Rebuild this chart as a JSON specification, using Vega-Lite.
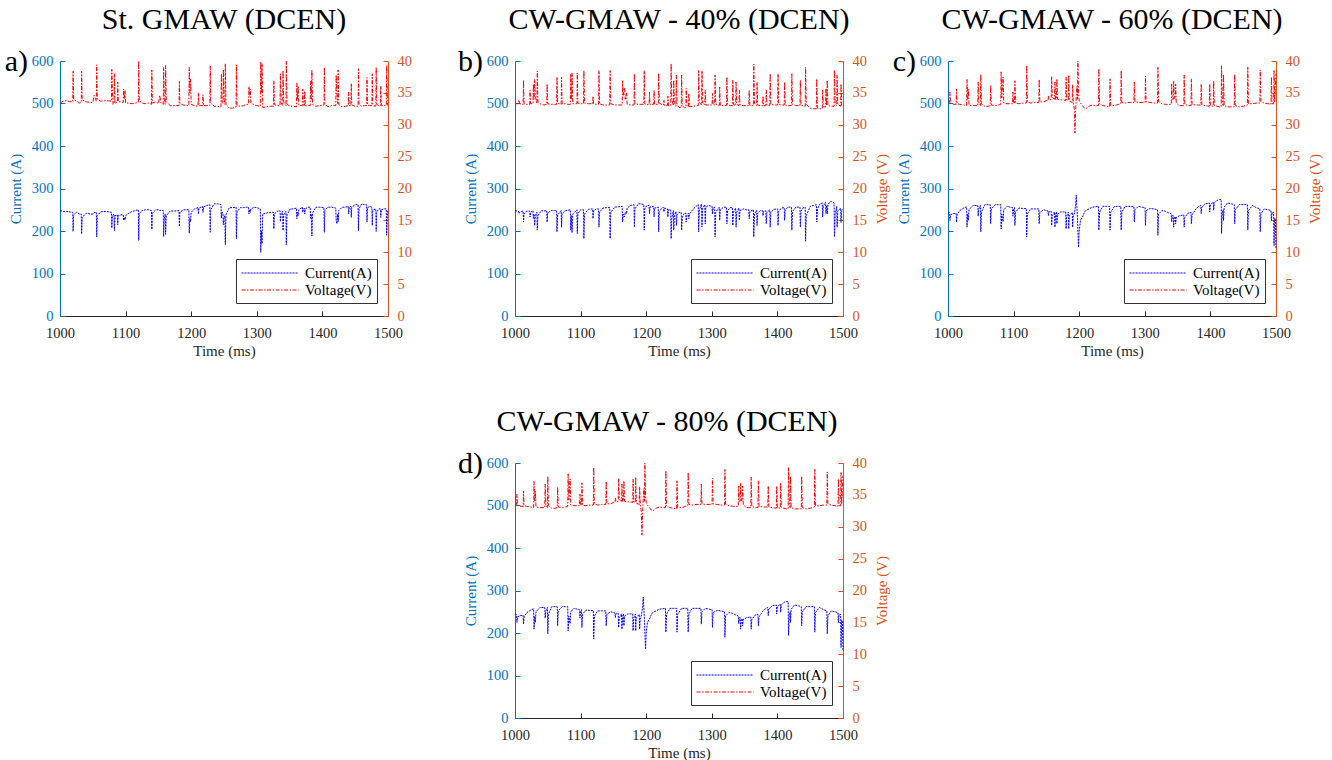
{
"$schema": "https://vega.github.io/schema/vega-lite/v6.json",
"background": "white",
"padding": {"left": 4, "top": 5, "right": 5, "bottom": 3},
"datasets": {
"a": [
{"t":1000,"I":248,"V":33.4},{"t":1005,"I":246,"V":33.7},{"t":1010,"I":246,"V":33.8},{"t":1015,"I":245,"V":33.6},{"t":1019.4,"I":244,"V":33.6},{"t":1020,"I":199,"V":38.4},{"t":1020.8,"I":238,"V":34.0},{"t":1025,"I":244,"V":33.7},{"t":1030,"I":240,"V":33.4},{"t":1032.4,"I":240,"V":33.5},{"t":1033,"I":193,"V":38.4},{"t":1033.8,"I":232,"V":33.9},{"t":1040,"I":242,"V":33.6},{"t":1046,"I":240,"V":33.5},{"t":1050,"I":240,"V":33.5},{"t":1052,"I":243,"V":34.6},{"t":1055.4,"I":244,"V":33.7},{"t":1056,"I":186,"V":39.4},{"t":1056.8,"I":236,"V":34.0},{"t":1062,"I":245,"V":33.7},{"t":1070,"I":246,"V":33.8},{"t":1078.4,"I":244,"V":33.7},{"t":1079,"I":207,"V":38.7},{"t":1080,"I":236,"V":34.5},{"t":1081,"I":238,"V":33.2},{"t":1082.4,"I":240,"V":33.5},{"t":1083,"I":201,"V":38.0},{"t":1083.8,"I":236,"V":33.3},{"t":1087.4,"I":238,"V":33.6},{"t":1088,"I":215,"V":36.7},{"t":1088.8,"I":236,"V":33.6},{"t":1093,"I":238,"V":33.6},{"t":1096.4,"I":238,"V":33.5},{"t":1097,"I":225,"V":35.6},{"t":1098,"I":232,"V":34.0},{"t":1099,"I":226,"V":35.4},{"t":1100,"I":236,"V":33.4},{"t":1105,"I":242,"V":33.4},{"t":1110,"I":246,"V":33.3},{"t":1119.4,"I":250,"V":33.5},{"t":1120,"I":178,"V":40.0},{"t":1120.8,"I":240,"V":33.8},{"t":1125,"I":248,"V":33.4},{"t":1130,"I":250,"V":33.3},{"t":1135,"I":250,"V":33.4},{"t":1139.4,"I":248,"V":33.2},{"t":1140,"I":204,"V":38.6},{"t":1140.8,"I":242,"V":33.4},{"t":1146,"I":250,"V":33.6},{"t":1150,"I":250,"V":33.3},{"t":1152,"I":248,"V":34.6},{"t":1154,"I":249,"V":33.4},{"t":1157.4,"I":248,"V":33.2},{"t":1158,"I":187,"V":39.0},{"t":1159,"I":230,"V":34.0},{"t":1160.4,"I":240,"V":33.2},{"t":1161,"I":192,"V":39.3},{"t":1162,"I":236,"V":33.6},{"t":1168,"I":247,"V":33.0},{"t":1175,"I":247,"V":33.0},{"t":1181.4,"I":248,"V":33.0},{"t":1182,"I":211,"V":36.8},{"t":1182.8,"I":244,"V":33.3},{"t":1188,"I":250,"V":33.1},{"t":1193,"I":250,"V":33.0},{"t":1196.4,"I":250,"V":33.0},{"t":1197,"I":195,"V":39.0},{"t":1198,"I":230,"V":35.0},{"t":1199,"I":222,"V":37.2},{"t":1200,"I":244,"V":33.2},{"t":1205,"I":252,"V":33.0},{"t":1210.4,"I":255,"V":32.9},{"t":1211,"I":240,"V":35.0},{"t":1211.8,"I":254,"V":33.0},{"t":1217.4,"I":258,"V":33.0},{"t":1218,"I":244,"V":34.7},{"t":1218.8,"I":257,"V":33.0},{"t":1224,"I":260,"V":33.0},{"t":1228.4,"I":262,"V":33.0},{"t":1229,"I":197,"V":39.2},{"t":1229.8,"I":250,"V":33.4},{"t":1235,"I":264,"V":32.9},{"t":1240,"I":264,"V":32.9},{"t":1245.4,"I":262,"V":32.8},{"t":1246,"I":230,"V":38.0},{"t":1247,"I":245,"V":33.5},{"t":1248.4,"I":240,"V":33.3},{"t":1249,"I":215,"V":38.7},{"t":1250,"I":232,"V":34.0},{"t":1251.4,"I":236,"V":33.2},{"t":1252,"I":168,"V":39.6},{"t":1253,"I":238,"V":33.2},{"t":1258,"I":255,"V":32.6},{"t":1263,"I":255,"V":32.6},{"t":1268.4,"I":256,"V":32.8},{"t":1269,"I":182,"V":39.4},{"t":1269.8,"I":245,"V":33.0},{"t":1275,"I":255,"V":32.9},{"t":1280,"I":255,"V":33.0},{"t":1284,"I":256,"V":33.2},{"t":1287.4,"I":256,"V":33.2},{"t":1288,"I":240,"V":36.0},{"t":1289,"I":250,"V":34.6},{"t":1290,"I":244,"V":35.6},{"t":1291,"I":252,"V":33.4},{"t":1296,"I":256,"V":33.1},{"t":1300,"I":255,"V":33.0},{"t":1305.4,"I":252,"V":32.9},{"t":1306,"I":150,"V":39.9},{"t":1307,"I":200,"V":35.0},{"t":1308,"I":170,"V":39.6},{"t":1309,"I":240,"V":32.7},{"t":1314,"I":242,"V":32.8},{"t":1320,"I":244,"V":32.9},{"t":1325.4,"I":244,"V":32.9},{"t":1326,"I":205,"V":36.9},{"t":1326.8,"I":240,"V":33.2},{"t":1331,"I":246,"V":33.0},{"t":1335.4,"I":248,"V":33.0},{"t":1336,"I":222,"V":38.0},{"t":1337,"I":240,"V":33.5},{"t":1339.4,"I":246,"V":33.0},{"t":1340,"I":201,"V":38.5},{"t":1341,"I":238,"V":33.6},{"t":1344.4,"I":246,"V":33.0},{"t":1345,"I":168,"V":40.0},{"t":1346,"I":238,"V":33.2},{"t":1351,"I":252,"V":32.9},{"t":1356,"I":252,"V":32.9},{"t":1360.4,"I":254,"V":32.8},{"t":1361,"I":229,"V":36.5},{"t":1362,"I":244,"V":34.0},{"t":1363,"I":236,"V":36.1},{"t":1364,"I":250,"V":33.0},{"t":1369.4,"I":256,"V":33.0},{"t":1370,"I":244,"V":35.6},{"t":1371,"I":250,"V":33.4},{"t":1372.4,"I":254,"V":33.0},{"t":1373,"I":240,"V":35.3},{"t":1374,"I":252,"V":33.0},{"t":1378,"I":256,"V":33.0},{"t":1381.4,"I":256,"V":33.0},{"t":1382,"I":230,"V":36.8},{"t":1383,"I":240,"V":34.0},{"t":1384,"I":188,"V":38.6},{"t":1385,"I":242,"V":33.2},{"t":1390,"I":256,"V":32.9},{"t":1396,"I":256,"V":33.0},{"t":1402.4,"I":255,"V":33.1},{"t":1403,"I":197,"V":39.0},{"t":1403.8,"I":248,"V":33.3},{"t":1408,"I":256,"V":32.8},{"t":1414,"I":256,"V":33.0},{"t":1420.4,"I":254,"V":33.0},{"t":1421,"I":225,"V":37.8},{"t":1422,"I":217,"V":35.0},{"t":1423.4,"I":240,"V":33.3},{"t":1424,"I":222,"V":38.6},{"t":1425,"I":248,"V":33.2},{"t":1430,"I":256,"V":32.8},{"t":1435,"I":256,"V":32.9},{"t":1439.4,"I":258,"V":33.0},{"t":1440,"I":240,"V":35.1},{"t":1440.8,"I":256,"V":33.0},{"t":1443.4,"I":258,"V":33.0},{"t":1444,"I":232,"V":36.5},{"t":1444.8,"I":256,"V":33.1},{"t":1450,"I":262,"V":32.9},{"t":1454.4,"I":262,"V":32.9},{"t":1455,"I":201,"V":38.8},{"t":1455.8,"I":252,"V":33.2},{"t":1460,"I":264,"V":32.9},{"t":1464,"I":262,"V":33.0},{"t":1467.4,"I":262,"V":33.0},{"t":1468,"I":221,"V":37.4},{"t":1468.8,"I":255,"V":33.1},{"t":1472,"I":258,"V":33.0},{"t":1475.4,"I":256,"V":33.0},{"t":1476,"I":213,"V":38.0},{"t":1476.8,"I":248,"V":33.2},{"t":1478,"I":250,"V":33.0},{"t":1481.4,"I":252,"V":32.9},{"t":1482,"I":199,"V":39.0},{"t":1482.8,"I":244,"V":33.2},{"t":1486,"I":252,"V":33.0},{"t":1488.4,"I":252,"V":33.0},{"t":1489,"I":232,"V":36.1},{"t":1489.8,"I":250,"V":33.0},{"t":1494,"I":252,"V":33.0},{"t":1497.4,"I":252,"V":33.0},{"t":1498,"I":190,"V":39.3},{"t":1499,"I":240,"V":33.4},{"t":1500,"I":250,"V":33.0}
],
"b": [
{"t":1000,"I":248,"V":33.3},{"t":1005.4,"I":246,"V":33.3},{"t":1006,"I":241,"V":33.9},{"t":1006.8,"I":244,"V":33.3},{"t":1012.4,"I":247,"V":33.2},{"t":1013,"I":221,"V":37.0},{"t":1013.8,"I":240,"V":33.3},{"t":1018,"I":247,"V":33.2},{"t":1022.4,"I":247,"V":33.2},{"t":1023,"I":233,"V":35.4},{"t":1023.8,"I":244,"V":33.3},{"t":1027.4,"I":248,"V":33.3},{"t":1028,"I":230,"V":36.4},{"t":1029,"I":240,"V":34.0},{"t":1030,"I":213,"V":37.1},{"t":1031,"I":236,"V":34.5},{"t":1033.4,"I":244,"V":33.3},{"t":1034,"I":202,"V":38.4},{"t":1035,"I":236,"V":33.5},{"t":1040,"I":248,"V":33.2},{"t":1044,"I":247,"V":33.1},{"t":1048.4,"I":248,"V":33.2},{"t":1049,"I":221,"V":36.4},{"t":1049.8,"I":242,"V":33.3},{"t":1055,"I":248,"V":33.2},{"t":1060,"I":248,"V":33.2},{"t":1063.4,"I":248,"V":33.2},{"t":1064,"I":198,"V":37.5},{"t":1065,"I":238,"V":33.4},{"t":1070.4,"I":248,"V":33.2},{"t":1071,"I":209,"V":37.5},{"t":1071.8,"I":240,"V":33.3},{"t":1077,"I":248,"V":33.3},{"t":1081,"I":249,"V":33.2},{"t":1084.4,"I":250,"V":33.2},{"t":1085,"I":202,"V":38.0},{"t":1086,"I":236,"V":34.0},{"t":1087,"I":196,"V":38.1},{"t":1088,"I":240,"V":33.3},{"t":1094.4,"I":250,"V":33.3},{"t":1095,"I":194,"V":38.1},{"t":1095.8,"I":240,"V":33.4},{"t":1100,"I":250,"V":33.3},{"t":1104.4,"I":250,"V":33.3},{"t":1105,"I":182,"V":38.5},{"t":1106,"I":240,"V":33.4},{"t":1112,"I":251,"V":33.3},{"t":1118.4,"I":252,"V":33.3},{"t":1119,"I":229,"V":34.5},{"t":1119.8,"I":248,"V":33.3},{"t":1124,"I":252,"V":33.2},{"t":1127.4,"I":252,"V":33.2},{"t":1128,"I":209,"V":38.5},{"t":1128.8,"I":244,"V":33.3},{"t":1134,"I":254,"V":33.1},{"t":1140,"I":255,"V":33.1},{"t":1144.4,"I":255,"V":33.1},{"t":1145,"I":182,"V":38.5},{"t":1146,"I":244,"V":33.3},{"t":1152,"I":256,"V":33.1},{"t":1158,"I":257,"V":33.1},{"t":1163.4,"I":258,"V":33.1},{"t":1164,"I":221,"V":36.9},{"t":1165,"I":240,"V":34.6},{"t":1167,"I":233,"V":35.8},{"t":1168,"I":244,"V":34.0},{"t":1170,"I":240,"V":35.0},{"t":1171,"I":254,"V":33.2},{"t":1176,"I":260,"V":33.1},{"t":1181.4,"I":262,"V":33.1},{"t":1182,"I":209,"V":38.0},{"t":1182.8,"I":252,"V":33.3},{"t":1188,"I":264,"V":33.2},{"t":1192,"I":264,"V":33.2},{"t":1196.4,"I":262,"V":33.2},{"t":1197,"I":202,"V":38.5},{"t":1197.8,"I":252,"V":33.3},{"t":1201,"I":260,"V":33.2},{"t":1204.4,"I":260,"V":33.2},{"t":1205,"I":241,"V":35.1},{"t":1205.8,"I":256,"V":33.2},{"t":1211.4,"I":258,"V":33.2},{"t":1212,"I":233,"V":35.4},{"t":1212.8,"I":254,"V":33.2},{"t":1218.4,"I":256,"V":33.2},{"t":1219,"I":198,"V":38.1},{"t":1220,"I":246,"V":33.4},{"t":1225,"I":256,"V":33.1},{"t":1226.4,"I":255,"V":33.1},{"t":1227,"I":245,"V":33.8},{"t":1228,"I":254,"V":33.0},{"t":1232.4,"I":252,"V":33.0},{"t":1233,"I":233,"V":34.5},{"t":1234,"I":250,"V":33.0},{"t":1237.4,"I":250,"V":33.0},{"t":1238,"I":182,"V":39.6},{"t":1239,"I":230,"V":34.0},{"t":1241.4,"I":248,"V":33.0},{"t":1242,"I":202,"V":37.0},{"t":1243,"I":236,"V":33.5},{"t":1245.4,"I":246,"V":32.9},{"t":1246,"I":213,"V":37.8},{"t":1247,"I":238,"V":33.2},{"t":1250,"I":244,"V":32.7},{"t":1253.4,"I":244,"V":32.7},{"t":1254,"I":202,"V":37.8},{"t":1255,"I":232,"V":33.0},{"t":1258,"I":242,"V":32.7},{"t":1260.4,"I":242,"V":32.7},{"t":1261,"I":221,"V":35.7},{"t":1262,"I":236,"V":33.0},{"t":1264.4,"I":242,"V":32.8},{"t":1265,"I":229,"V":34.9},{"t":1266,"I":240,"V":32.8},{"t":1272,"I":252,"V":32.9},{"t":1276,"I":258,"V":33.0},{"t":1279.4,"I":262,"V":33.0},{"t":1280,"I":198,"V":38.5},{"t":1281,"I":250,"V":33.5},{"t":1284.4,"I":264,"V":33.1},{"t":1285,"I":210,"V":38.5},{"t":1286,"I":254,"V":33.4},{"t":1289.4,"I":262,"V":33.1},{"t":1290,"I":217,"V":35.4},{"t":1290.8,"I":256,"V":33.1},{"t":1295,"I":260,"V":33.1},{"t":1300.4,"I":258,"V":33.1},{"t":1301,"I":240,"V":34.9},{"t":1302,"I":255,"V":33.1},{"t":1304.4,"I":256,"V":33.1},{"t":1305,"I":186,"V":37.8},{"t":1306,"I":244,"V":33.3},{"t":1311.4,"I":256,"V":33.0},{"t":1312,"I":225,"V":35.9},{"t":1313,"I":250,"V":33.0},{"t":1318,"I":256,"V":33.0},{"t":1322.4,"I":256,"V":33.0},{"t":1323,"I":217,"V":37.5},{"t":1324,"I":248,"V":33.2},{"t":1328,"I":255,"V":33.0},{"t":1331.4,"I":255,"V":33.0},{"t":1332,"I":213,"V":37.0},{"t":1333,"I":244,"V":33.2},{"t":1336.4,"I":254,"V":33.0},{"t":1337,"I":209,"V":36.7},{"t":1338,"I":244,"V":33.2},{"t":1341.4,"I":254,"V":33.0},{"t":1342,"I":225,"V":35.4},{"t":1343,"I":248,"V":33.1},{"t":1348,"I":252,"V":33.0},{"t":1353,"I":250,"V":33.0},{"t":1356.4,"I":250,"V":33.0},{"t":1357,"I":229,"V":35.4},{"t":1358,"I":246,"V":33.0},{"t":1363.4,"I":250,"V":33.0},{"t":1364,"I":186,"V":39.5},{"t":1365,"I":240,"V":33.4},{"t":1368.4,"I":249,"V":33.0},{"t":1369,"I":213,"V":36.7},{"t":1370,"I":242,"V":33.1},{"t":1374,"I":248,"V":33.0},{"t":1377.4,"I":248,"V":33.0},{"t":1378,"I":236,"V":34.5},{"t":1379,"I":246,"V":33.0},{"t":1382.4,"I":248,"V":33.0},{"t":1383,"I":217,"V":35.4},{"t":1384,"I":244,"V":33.1},{"t":1388.4,"I":250,"V":33.0},{"t":1389,"I":209,"V":38.0},{"t":1390,"I":244,"V":33.2},{"t":1395,"I":251,"V":33.1},{"t":1400.4,"I":252,"V":33.1},{"t":1401,"I":213,"V":38.0},{"t":1402,"I":246,"V":33.2},{"t":1406,"I":254,"V":33.1},{"t":1410.4,"I":255,"V":33.1},{"t":1411,"I":225,"V":36.7},{"t":1412,"I":250,"V":33.1},{"t":1416,"I":256,"V":33.0},{"t":1421.4,"I":256,"V":33.0},{"t":1422,"I":202,"V":38.0},{"t":1423,"I":246,"V":33.2},{"t":1428,"I":256,"V":33.0},{"t":1434.4,"I":256,"V":33.0},{"t":1435,"I":209,"V":37.0},{"t":1436,"I":246,"V":33.1},{"t":1440,"I":256,"V":32.9},{"t":1442.4,"I":256,"V":32.9},{"t":1443,"I":176,"V":39.0},{"t":1444,"I":236,"V":33.2},{"t":1450,"I":258,"V":32.6},{"t":1455,"I":260,"V":32.5},{"t":1459.4,"I":262,"V":32.5},{"t":1460,"I":221,"V":37.2},{"t":1461,"I":252,"V":32.6},{"t":1465,"I":264,"V":32.5},{"t":1468.4,"I":266,"V":32.5},{"t":1469,"I":233,"V":35.4},{"t":1470,"I":258,"V":32.8},{"t":1473.4,"I":268,"V":32.8},{"t":1474,"I":241,"V":35.7},{"t":1475,"I":260,"V":33.0},{"t":1476,"I":240,"V":37.0},{"t":1477,"I":262,"V":33.0},{"t":1481,"I":270,"V":32.9},{"t":1486.4,"I":266,"V":32.9},{"t":1487,"I":186,"V":38.6},{"t":1488,"I":240,"V":33.3},{"t":1490.4,"I":258,"V":33.0},{"t":1491,"I":209,"V":37.8},{"t":1492,"I":246,"V":33.2},{"t":1496.4,"I":254,"V":32.9},{"t":1497,"I":220,"V":36.4},{"t":1498,"I":248,"V":33.0},{"t":1500,"I":252,"V":32.9}
],
"c": [
{"t":1000,"I":245,"V":33.6},{"t":1002.4,"I":243,"V":33.5},{"t":1003,"I":225,"V":35.1},{"t":1003.8,"I":238,"V":33.4},{"t":1008,"I":241,"V":33.2},{"t":1012.4,"I":242,"V":33.2},{"t":1013,"I":221,"V":35.6},{"t":1013.8,"I":238,"V":33.3},{"t":1018,"I":248,"V":33.2},{"t":1024,"I":254,"V":33.1},{"t":1028.4,"I":257,"V":33.0},{"t":1029,"I":209,"V":37.1},{"t":1030,"I":240,"V":34.0},{"t":1031,"I":225,"V":35.6},{"t":1032,"I":250,"V":33.1},{"t":1038,"I":260,"V":33.0},{"t":1045.4,"I":260,"V":33.0},{"t":1046,"I":235,"V":36.7},{"t":1047,"I":252,"V":33.4},{"t":1049.4,"I":260,"V":33.0},{"t":1050,"I":198,"V":37.9},{"t":1051,"I":244,"V":33.3},{"t":1056,"I":262,"V":32.9},{"t":1061,"I":262,"V":32.9},{"t":1064.4,"I":262,"V":33.0},{"t":1065,"I":217,"V":36.2},{"t":1066,"I":252,"V":33.1},{"t":1072,"I":262,"V":33.0},{"t":1077,"I":262,"V":33.1},{"t":1080.4,"I":262,"V":33.2},{"t":1081,"I":205,"V":38.3},{"t":1082,"I":240,"V":34.2},{"t":1084,"I":222,"V":37.5},{"t":1085,"I":250,"V":33.4},{"t":1090,"I":258,"V":33.3},{"t":1095,"I":256,"V":33.3},{"t":1098.4,"I":255,"V":33.3},{"t":1099,"I":235,"V":35.1},{"t":1100,"I":250,"V":33.5},{"t":1101.4,"I":255,"V":33.3},{"t":1102,"I":213,"V":36.9},{"t":1103,"I":244,"V":33.4},{"t":1108,"I":254,"V":33.3},{"t":1114,"I":253,"V":33.4},{"t":1119.4,"I":253,"V":33.4},{"t":1120,"I":186,"V":39.3},{"t":1121,"I":240,"V":33.6},{"t":1126,"I":252,"V":33.4},{"t":1132,"I":252,"V":33.5},{"t":1138.4,"I":252,"V":33.5},{"t":1139,"I":217,"V":37.1},{"t":1140,"I":244,"V":33.6},{"t":1146,"I":250,"V":33.6},{"t":1150,"I":248,"V":33.8},{"t":1152.4,"I":247,"V":33.8},{"t":1153,"I":236,"V":34.5},{"t":1154,"I":246,"V":33.9},{"t":1157.4,"I":246,"V":34.0},{"t":1158,"I":213,"V":37.6},{"t":1159,"I":236,"V":34.3},{"t":1162.4,"I":245,"V":34.0},{"t":1163,"I":209,"V":36.7},{"t":1164,"I":238,"V":34.0},{"t":1165.4,"I":245,"V":34.0},{"t":1166,"I":217,"V":37.2},{"t":1167,"I":240,"V":34.0},{"t":1172,"I":245,"V":33.9},{"t":1176,"I":245,"V":33.9},{"t":1179.4,"I":245,"V":33.8},{"t":1180,"I":205,"V":37.5},{"t":1181,"I":236,"V":33.9},{"t":1183.4,"I":244,"V":33.8},{"t":1184,"I":205,"V":37.8},{"t":1185,"I":236,"V":33.7},{"t":1189.4,"I":244,"V":33.5},{"t":1190,"I":209,"V":36.3},{"t":1191,"I":236,"V":33.4},{"t":1192.5,"I":240,"V":32.5},{"t":1193.5,"I":250,"V":28.7},{"t":1194.5,"I":262,"V":32.0},{"t":1195.5,"I":284,"V":34.5},{"t":1196.5,"I":255,"V":36.0},{"t":1197.4,"I":230,"V":34.0},{"t":1198,"I":200,"V":40.0},{"t":1199,"I":162,"V":35.0},{"t":1200,"I":200,"V":33.8},{"t":1202,"I":225,"V":33.4},{"t":1205,"I":233,"V":33.0},{"t":1208,"I":244,"V":32.6},{"t":1210,"I":248,"V":32.5},{"t":1215,"I":252,"V":32.9},{"t":1220,"I":256,"V":33.1},{"t":1225,"I":257,"V":33.0},{"t":1229.4,"I":258,"V":33.0},{"t":1230,"I":202,"V":38.8},{"t":1231,"I":244,"V":33.3},{"t":1236,"I":258,"V":33.0},{"t":1242,"I":258,"V":32.9},{"t":1246.4,"I":258,"V":32.8},{"t":1247,"I":202,"V":37.2},{"t":1248,"I":244,"V":33.0},{"t":1254,"I":258,"V":33.0},{"t":1260,"I":258,"V":33.2},{"t":1263.4,"I":258,"V":33.3},{"t":1264,"I":202,"V":38.5},{"t":1265,"I":244,"V":33.5},{"t":1270,"I":258,"V":33.4},{"t":1276,"I":258,"V":33.5},{"t":1283.4,"I":258,"V":33.5},{"t":1284,"I":221,"V":36.7},{"t":1285,"I":250,"V":33.6},{"t":1290,"I":258,"V":33.5},{"t":1296,"I":256,"V":33.5},{"t":1300.4,"I":255,"V":33.5},{"t":1301,"I":213,"V":37.6},{"t":1302,"I":248,"V":33.6},{"t":1308,"I":253,"V":33.5},{"t":1314,"I":252,"V":33.4},{"t":1319.4,"I":250,"V":33.4},{"t":1320,"I":190,"V":39.0},{"t":1321,"I":240,"V":33.6},{"t":1326,"I":248,"V":33.3},{"t":1332,"I":246,"V":33.2},{"t":1336,"I":243,"V":33.2},{"t":1340.4,"I":240,"V":33.2},{"t":1341,"I":222,"V":36.4},{"t":1342,"I":236,"V":34.0},{"t":1343.4,"I":236,"V":34.0},{"t":1344,"I":209,"V":36.8},{"t":1345,"I":230,"V":34.2},{"t":1346.4,"I":234,"V":34.0},{"t":1347,"I":217,"V":36.4},{"t":1348,"I":232,"V":33.4},{"t":1353,"I":236,"V":33.0},{"t":1359.4,"I":238,"V":33.0},{"t":1360,"I":209,"V":37.8},{"t":1361,"I":232,"V":33.2},{"t":1366,"I":242,"V":33.0},{"t":1370.4,"I":244,"V":33.0},{"t":1371,"I":217,"V":37.2},{"t":1372,"I":238,"V":33.2},{"t":1378,"I":252,"V":33.1},{"t":1382,"I":258,"V":33.1},{"t":1385.4,"I":260,"V":33.1},{"t":1386,"I":241,"V":36.4},{"t":1387,"I":256,"V":33.1},{"t":1392,"I":264,"V":33.0},{"t":1398.4,"I":266,"V":32.9},{"t":1399,"I":245,"V":36.4},{"t":1400,"I":262,"V":33.0},{"t":1404.4,"I":268,"V":32.9},{"t":1405,"I":249,"V":36.9},{"t":1406,"I":266,"V":33.0},{"t":1410,"I":272,"V":32.9},{"t":1414,"I":274,"V":32.8},{"t":1416.4,"I":274,"V":32.8},{"t":1417,"I":194,"V":39.3},{"t":1418,"I":240,"V":34.0},{"t":1419.4,"I":250,"V":33.0},{"t":1420,"I":225,"V":37.9},{"t":1421,"I":256,"V":33.0},{"t":1426,"I":266,"V":32.8},{"t":1432,"I":264,"V":32.8},{"t":1436.4,"I":262,"V":32.8},{"t":1437,"I":217,"V":37.9},{"t":1438,"I":250,"V":33.0},{"t":1444,"I":262,"V":32.8},{"t":1450,"I":262,"V":32.9},{"t":1456.4,"I":262,"V":33.1},{"t":1457,"I":202,"V":39.0},{"t":1458,"I":248,"V":33.3},{"t":1464,"I":260,"V":33.3},{"t":1470,"I":255,"V":33.4},{"t":1475.4,"I":252,"V":33.4},{"t":1476,"I":198,"V":38.6},{"t":1477,"I":240,"V":33.6},{"t":1482,"I":252,"V":33.4},{"t":1488,"I":250,"V":33.3},{"t":1492.4,"I":248,"V":33.2},{"t":1493,"I":225,"V":37.5},{"t":1494,"I":244,"V":33.3},{"t":1496.4,"I":244,"V":33.3},{"t":1497,"I":166,"V":38.5},{"t":1498,"I":230,"V":33.5},{"t":1499,"I":230,"V":36.0},{"t":1500,"I":160,"V":38.0}
]
},
"columns": 3,
"spacing": {"row": 147, "column": 105},
"bounds": "flush",
"resolve": {"scale": {"color": "independent", "strokeDash": "independent"}},
"concat": [
{
"width": 350, "height": 255,
"title": {"text": "St. GMAW (DCEN)", "dx": -11},
"data": {"name": "a"},
"layer": [
{"mark": {"type": "line", "strokeWidth": 1},
 "encoding": {
  "x": {"field": "t", "type": "quantitative", "scale": {"domain": [1000, 1500], "range": [0, 328]}, "axis": {"title": "Time (ms)", "values": [1000,1100,1200,1300,1400,1500], "format": "d", "labelFlush": false, "labelPadding": 15, "titlePadding": 4, "labelColor": "#262626", "domainColor": "#262626", "tickColor": "#262626", "titleColor": "#262626"}},
  "y": {"field": "I", "type": "quantitative", "scale": {"domain": [0, 600]}, "axis": {"title": "Current (A)", "orient": "left", "values": [0,100,200,300,400,500,600], "labelPadding": 12, "titlePadding": 8, "labelColor": "#0072BD", "domainColor": "#0072BD", "tickColor": "#0072BD", "titleColor": "#0072BD"}},
  "color": {"datum": "Current(A)", "scale": {"domain": ["Current(A)", "Voltage(V)"], "range": ["#0000FF", "#FF0000"]}, "legend": {"title": null}},
  "strokeDash": {"datum": "Current(A)", "scale": {"domain": ["Current(A)", "Voltage(V)"], "range": [[2, 1], [4, 1.5, 1.5, 1.5]]}, "legend": {"title": null}}
 }},
{"mark": {"type": "line", "strokeWidth": 1},
 "encoding": {
  "x": {"field": "t", "type": "quantitative"},
  "y": {"field": "V", "type": "quantitative", "scale": {"domain": [0, 40]}, "axis": {"title": null, "orient": "right", "offset": -22, "values": [0,5,10,15,20,25,30,35,40], "labelPadding": 14, "labelColor": "#D95319", "domainColor": "#D95319", "tickColor": "#D95319"}},
  "color": {"datum": "Voltage(V)"},
  "strokeDash": {"datum": "Voltage(V)"}
 }},
{"data": {"values": [{}]},
 "mark": {"type": "text", "text": "a)", "font": "Liberation Serif, Times New Roman, serif", "fontSize": 30, "fontWeight": "normal", "align": "right", "baseline": "middle", "dx": -32, "dy": 1, "fill": "black"},
 "encoding": {"x": {"datum": 1000, "type": "quantitative"}, "y": {"datum": 600, "type": "quantitative", "scale": {"domain": [0, 600]}, "axis": null}}}
],
"resolve": {"scale": {"y": "independent"}}
},
{
"width": 328, "height": 255,
"title": {"text": "CW-GMAW - 40% (DCEN)"},
"data": {"name": "b"},
"layer": [
{"mark": {"type": "line", "strokeWidth": 1},
 "encoding": {
  "x": {"field": "t", "type": "quantitative", "scale": {"domain": [1000, 1500]}, "axis": {"title": "Time (ms)", "values": [1000,1100,1200,1300,1400,1500], "format": "d", "labelFlush": false, "labelPadding": 15, "titlePadding": 4, "labelColor": "#262626", "domainColor": "#262626", "tickColor": "#262626", "titleColor": "#262626"}},
  "y": {"field": "I", "type": "quantitative", "scale": {"domain": [0, 600]}, "axis": {"title": "Current (A)", "orient": "left", "values": [0,100,200,300,400,500,600], "labelPadding": 12, "titlePadding": 8, "labelColor": "#0072BD", "domainColor": "#0072BD", "tickColor": "#0072BD", "titleColor": "#0072BD"}},
  "color": {"datum": "Current(A)", "scale": {"domain": ["Current(A)", "Voltage(V)"], "range": ["#0000FF", "#FF0000"]}, "legend": {"title": null}},
  "strokeDash": {"datum": "Current(A)", "scale": {"domain": ["Current(A)", "Voltage(V)"], "range": [[2, 1], [4, 1.5, 1.5, 1.5]]}, "legend": {"title": null}}
 }},
{"mark": {"type": "line", "strokeWidth": 1},
 "encoding": {
  "x": {"field": "t", "type": "quantitative"},
  "y": {"field": "V", "type": "quantitative", "scale": {"domain": [0, 40]}, "axis": {"title": "Voltage (V)", "orient": "right", "titleAngle": 270, "titleBaseline": "top", "values": [0,5,10,15,20,25,30,35,40], "labelPadding": 14, "titlePadding": 8, "labelColor": "#D95319", "domainColor": "#D95319", "tickColor": "#D95319", "titleColor": "#D95319"}},
  "color": {"datum": "Voltage(V)"},
  "strokeDash": {"datum": "Voltage(V)"}
 }},
{"data": {"values": [{}]},
 "mark": {"type": "text", "text": "b)", "font": "Liberation Serif, Times New Roman, serif", "fontSize": 30, "fontWeight": "normal", "align": "right", "baseline": "middle", "dx": -32, "dy": 1, "fill": "black"},
 "encoding": {"x": {"datum": 1000, "type": "quantitative"}, "y": {"datum": 600, "type": "quantitative", "scale": {"domain": [0, 600]}, "axis": null}}}
],
"resolve": {"scale": {"y": "independent"}}
},
{
"width": 328, "height": 255,
"title": {"text": "CW-GMAW - 60% (DCEN)"},
"data": {"name": "c"},
"layer": [
{"mark": {"type": "line", "strokeWidth": 1},
 "encoding": {
  "x": {"field": "t", "type": "quantitative", "scale": {"domain": [1000, 1500]}, "axis": {"title": "Time (ms)", "values": [1000,1100,1200,1300,1400,1500], "format": "d", "labelFlush": false, "labelPadding": 15, "titlePadding": 4, "labelColor": "#262626", "domainColor": "#262626", "tickColor": "#262626", "titleColor": "#262626"}},
  "y": {"field": "I", "type": "quantitative", "scale": {"domain": [0, 600]}, "axis": {"title": "Current (A)", "orient": "left", "values": [0,100,200,300,400,500,600], "labelPadding": 12, "titlePadding": 8, "labelColor": "#0072BD", "domainColor": "#0072BD", "tickColor": "#0072BD", "titleColor": "#0072BD"}},
  "color": {"datum": "Current(A)", "scale": {"domain": ["Current(A)", "Voltage(V)"], "range": ["#0000FF", "#FF0000"]}, "legend": {"title": null}},
  "strokeDash": {"datum": "Current(A)", "scale": {"domain": ["Current(A)", "Voltage(V)"], "range": [[2, 1], [4, 1.5, 1.5, 1.5]]}, "legend": {"title": null}}
 }},
{"mark": {"type": "line", "strokeWidth": 1},
 "encoding": {
  "x": {"field": "t", "type": "quantitative"},
  "y": {"field": "V", "type": "quantitative", "scale": {"domain": [0, 40]}, "axis": {"title": "Voltage (V)", "orient": "right", "titleAngle": 270, "titleBaseline": "top", "values": [0,5,10,15,20,25,30,35,40], "labelPadding": 14, "titlePadding": 8, "labelColor": "#D95319", "domainColor": "#D95319", "tickColor": "#D95319", "titleColor": "#D95319"}},
  "color": {"datum": "Voltage(V)"},
  "strokeDash": {"datum": "Voltage(V)"}
 }},
{"data": {"values": [{}]},
 "mark": {"type": "text", "text": "c)", "font": "Liberation Serif, Times New Roman, serif", "fontSize": 30, "fontWeight": "normal", "align": "right", "baseline": "middle", "dx": -32, "dy": 1, "fill": "black"},
 "encoding": {"x": {"datum": 1000, "type": "quantitative"}, "y": {"datum": 600, "type": "quantitative", "scale": {"domain": [0, 600]}, "axis": null}}}
],
"resolve": {"scale": {"y": "independent"}}
},
{
"width": 328, "height": 255,
"data": {"values": [{}]},
"mark": {"type": "text", "text": ""},
"encoding": {}
},
{
"width": 328, "height": 255,
"title": {"text": "CW-GMAW - 80% (DCEN)", "dx": -12},
"data": {"name": "c"},
"layer": [
{"mark": {"type": "line", "strokeWidth": 1},
 "encoding": {
  "x": {"field": "t", "type": "quantitative", "scale": {"domain": [1000, 1500]}, "axis": {"title": "Time (ms)", "values": [1000,1100,1200,1300,1400,1500], "format": "d", "labelFlush": false, "labelPadding": 15, "titlePadding": 4, "labelColor": "#262626", "domainColor": "#262626", "tickColor": "#262626", "titleColor": "#262626"}},
  "y": {"field": "I", "type": "quantitative", "scale": {"domain": [0, 600]}, "axis": {"title": "Current (A)", "orient": "left", "values": [0,100,200,300,400,500,600], "labelPadding": 12, "titlePadding": 8, "labelColor": "#0072BD", "domainColor": "#0072BD", "tickColor": "#0072BD", "titleColor": "#0072BD"}},
  "color": {"datum": "Current(A)", "scale": {"domain": ["Current(A)", "Voltage(V)"], "range": ["#0000FF", "#FF0000"]}, "legend": {"title": null}},
  "strokeDash": {"datum": "Current(A)", "scale": {"domain": ["Current(A)", "Voltage(V)"], "range": [[2, 1], [4, 1.5, 1.5, 1.5]]}, "legend": {"title": null}}
 }},
{"mark": {"type": "line", "strokeWidth": 1},
 "encoding": {
  "x": {"field": "t", "type": "quantitative"},
  "y": {"field": "V", "type": "quantitative", "scale": {"domain": [0, 40]}, "axis": {"title": "Voltage (V)", "orient": "right", "titleAngle": 270, "titleBaseline": "top", "values": [0,5,10,15,20,25,30,35,40], "labelPadding": 14, "titlePadding": 8, "labelColor": "#D95319", "domainColor": "#D95319", "tickColor": "#D95319", "titleColor": "#D95319"}},
  "color": {"datum": "Voltage(V)"},
  "strokeDash": {"datum": "Voltage(V)"}
 }},
{"data": {"values": [{}]},
 "mark": {"type": "text", "text": "d)", "font": "Liberation Serif, Times New Roman, serif", "fontSize": 30, "fontWeight": "normal", "align": "right", "baseline": "middle", "dx": -32, "dy": 1, "fill": "black"},
 "encoding": {"x": {"datum": 1000, "type": "quantitative"}, "y": {"datum": 600, "type": "quantitative", "scale": {"domain": [0, 600]}, "axis": null}}}
],
"resolve": {"scale": {"y": "independent"}}
}
],
"config": {
 "font": "Liberation Serif, Times New Roman, DejaVu Serif, serif",
 "view": {"stroke": null},
 "title": {"font": "Liberation Serif, Times New Roman, DejaVu Serif, serif", "fontSize": 30, "fontWeight": "normal", "color": "black", "offset": 12, "anchor": "middle"},
 "axis": {"grid": false, "labelFont": "Liberation Serif, Times New Roman, DejaVu Serif, serif", "titleFont": "Liberation Serif, Times New Roman, DejaVu Serif, serif", "labelFontSize": 14.5, "titleFontSize": 15, "titleFontWeight": "normal", "tickSize": -5, "domainWidth": 1, "tickWidth": 1},
 "text": {"font": "Liberation Serif, Times New Roman, DejaVu Serif, serif"},
 "legend": {"orient": "none", "legendX": 176, "legendY": 198, "labelFont": "Liberation Serif, Times New Roman, DejaVu Serif, serif", "labelFontSize": 15, "labelColor": "black", "symbolType": "M-3.35,0H3.35", "symbolSize": 289, "symbolStrokeWidth": 1, "symbolOffset": 20, "labelOffset": 26, "strokeColor": "#333333", "fillColor": "white", "padding": 5, "rowPadding": -3, "cornerRadius": 0}
}
}
